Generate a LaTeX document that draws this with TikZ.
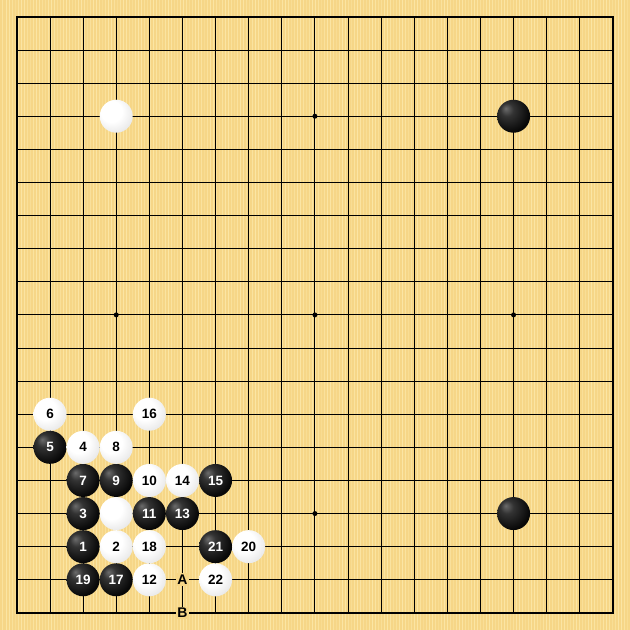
\documentclass[tikz,border=0pt]{standalone}
\usepackage{fontspec}
\setsansfont{Liberation Sans}
\definecolor{wood}{RGB}{246,214,135}
\definecolor{woodlight}{RGB}{253,234,172}
\pgfdeclareradialshading{whitestone}{\pgfpoint{-10bp}{10bp}}{color(0bp)=(white); color(16bp)=(white); color(30bp)=(black!8); color(45bp)=(black!28); color(60bp)=(black!45)}
\pgfdeclareradialshading{blackstone}{\pgfpoint{-12bp}{12bp}}{color(0bp)=(black!58); color(10bp)=(black!80); color(30bp)=(black!97); color(46bp)=(black!92); color(54bp)=(black!75); color(60bp)=(black!75)}
\tikzset{
  wst/.style={circle, inner sep=0pt, minimum size=33pt, shading=whitestone, text=black, font=\sffamily\bfseries\fontsize{13.5}{13.5}\selectfont},
  bst/.style={circle, inner sep=0pt, minimum size=33pt, shading=blackstone, text=white, font=\sffamily\bfseries\fontsize{13.5}{13.5}\selectfont},
  mark label/.style={fill=wood, inner sep=1.5pt, text=black, font=\sffamily\bfseries\fontsize{14}{14}\selectfont},
  grid line/.style={line width=1pt, black},
  border line/.style={line width=2pt, black},
  hoshi/.style={circle, fill=black, inner sep=0pt, minimum size=5pt}
}
\begin{document}
\begin{tikzpicture}[x=33.111pt, y=-33.111pt]
\useasboundingbox (-0.5104,-0.5104) rectangle (18.5167,18.5167);
\fill[wood] (-0.5104,-0.5104) rectangle (18.5167,18.5167);
\foreach \i in {0,...,209} {
  \pgfmathsetmacro{\xx}{-0.5104+\i*0.0906}
  \pgfmathsetmacro{\op}{0.3+0.5*abs(sin(mod(\i*37,360)))}
  \draw[woodlight, line width=1pt, opacity=\op] (\xx,-0.5104) -- (\xx,18.5167);
}
\foreach \k in {1,...,17} {
  \draw[grid line] (\k,0) -- (\k,18);
  \draw[grid line] (0,\k) -- (18,\k);
}
\draw[border line] (0,0) rectangle (18,18);
\foreach \c/\r [count=\n] in {3/3,9/3,15/3,3/9,9/9,15/9,3/15,9/15,15/15}
  \node[hoshi] (h\n) at (\c,\r) {};
% unnumbered stones
\node[wst] (w0) at (3,3) {};
\node[bst] (b0) at (15,3) {};
\node[bst] (b00) at (15,15) {};
\node[wst] (w00) at (3,15) {};
% numbered black
\foreach \c/\r/\t in {2/16/1, 2/15/3, 1/13/5, 2/14/7, 3/14/9, 4/15/11, 5/15/13, 6/14/15, 3/17/17, 2/17/19, 6/16/21}
  \node[bst] (m\t) at (\c,\r) {\t};
% numbered white
\foreach \c/\r/\t in {3/16/2, 2/13/4, 1/12/6, 3/13/8, 4/14/10, 4/17/12, 5/14/14, 4/12/16, 4/16/18, 7/16/20, 6/17/22}
  \node[wst] (m\t) at (\c,\r) {\t};
\node[mark label] (labA) at (5,17) {A};
\node[mark label] (labB) at (5,18) {B};
\end{tikzpicture}
\end{document}
